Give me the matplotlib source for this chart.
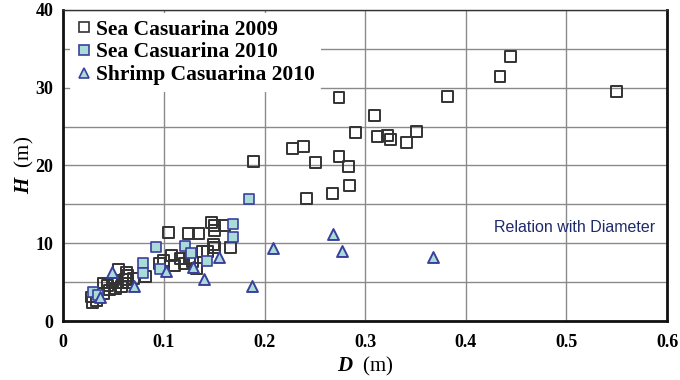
import matplotlib
matplotlib.use("Agg")
import matplotlib.pyplot as plt
from matplotlib.lines import Line2D

plt.rcParams['mathtext.fontset'] = 'custom'
plt.rcParams['mathtext.rm'] = 'Liberation Serif'
plt.rcParams['mathtext.it'] = 'Liberation Serif:italic'
plt.rcParams['mathtext.bf'] = 'Liberation Serif:bold'
plt.rcParams['mathtext.bfit'] = 'Liberation Serif:italic:bold'

# Sea Casuarina 2009 (open squares)
sea09_D = [0.028, 0.029, 0.033, 0.040, 0.040, 0.044, 0.046, 0.049, 0.052, 0.054,
           0.058, 0.059, 0.062, 0.064, 0.055, 0.063, 0.064, 0.070, 0.082,
           0.096, 0.100, 0.105, 0.108, 0.111, 0.116, 0.120, 0.124, 0.125, 0.128,
           0.132, 0.134, 0.138, 0.143, 0.147, 0.149, 0.150, 0.150, 0.150, 0.160,
           0.166, 0.189, 0.228, 0.239, 0.242, 0.251, 0.268, 0.274, 0.274, 0.283,
           0.284, 0.290, 0.309, 0.312, 0.322, 0.325, 0.341, 0.351, 0.382, 0.434,
           0.444, 0.550]
sea09_H = [3.1, 2.4, 2.7, 3.6, 4.9, 4.6, 4.0, 4.9, 4.2, 5.0,
           4.4, 4.9, 5.3, 4.9, 6.6, 6.3, 5.9, 5.5, 5.7,
           7.4, 7.8, 11.4, 8.4, 7.2, 8.1, 7.4, 11.2, 8.0, 7.6,
           6.8, 11.2, 8.9, 8.9, 12.7, 9.8, 12.3, 11.7, 9.5, 12.3,
           9.5, 20.5, 22.2, 22.4, 15.8, 20.4, 16.4, 21.1, 28.7, 19.9,
           17.4, 24.3, 26.4, 23.7, 23.8, 23.3, 23.0, 24.4, 28.9, 31.4,
           34.0, 29.5]

# Sea Casuarina 2010 (filled squares)
sea10_D = [0.030, 0.035, 0.079, 0.079, 0.092, 0.096, 0.121, 0.127, 0.143, 0.169, 0.169, 0.185]
sea10_H = [3.7, 3.3, 7.5, 6.2, 9.5, 6.7, 9.6, 8.7, 7.7, 12.5, 10.8, 15.7]

# Shrimp Casuarina 2010 (triangles)
shrimp_D = [0.037, 0.048, 0.070, 0.102, 0.129, 0.140, 0.155, 0.188, 0.208, 0.268, 0.277, 0.367]
shrimp_H = [3.1, 6.3, 4.5, 6.4, 6.9, 5.4, 8.2, 4.5, 9.4, 11.2, 9.0, 8.2]

xticks = [0, 0.1, 0.2, 0.3, 0.4, 0.5, 0.6]
xticklabels = ['0', '0.1', '0.2', '0.3', '0.4', '0.5', '0.6']
yticks = [0, 10, 20, 30, 40]

fig = plt.figure(figsize=(6.8, 3.8), dpi=100)
ax = fig.add_axes([0.093, 0.155, 0.888, 0.819])

face = '#a9dcd8'
edge_b = '#3a3f9e'
ax.scatter(sea09_D, sea09_H, marker='s', s=62, facecolors='none', edgecolors='#333333',
           linewidths=1.4, zorder=3)
ax.scatter(sea10_D, sea10_H, marker='s', s=62, facecolors=face, edgecolors=edge_b,
           linewidths=1.2, zorder=4)
ax.scatter(shrimp_D, shrimp_H, marker='^', s=62, facecolors=face, edgecolors=edge_b,
           linewidths=1.4, zorder=5)

ax.set_xlim(0, 0.6)
ax.set_ylim(0, 40)
ax.set_xticks(xticks)
ax.set_xticklabels(xticklabels)
ax.set_yticks(yticks)
ax.set_yticks([5, 15, 25, 35], minor=True)
ax.grid(True, which='both', color='#8a8a8a', linewidth=1.0, zorder=0)
ax.set_axisbelow(True)
for lab in ax.get_xticklabels() + ax.get_yticklabels():
    lab.set_fontfamily('Liberation Serif')
    lab.set_fontweight('bold')
    lab.set_fontsize(13)
ax.tick_params(axis='x', which='both', length=0, pad=9)
ax.tick_params(axis='y', which='both', length=0, pad=7)

for side in ['left', 'bottom', 'right']:
    ax.spines[side].set_linewidth(2.0)
    ax.spines[side].set_color('#111111')
ax.spines['top'].set_linewidth(1.0)
ax.spines['top'].set_color('#333333')

ax.set_xlabel(r'$\mathbfit{D}$  (m)', fontfamily='Liberation Serif', fontsize=15, labelpad=3)
ax.set_ylabel(r'$\mathbfit{H}$  (m)', fontfamily='Liberation Serif', fontsize=15, labelpad=0)

ax.text(0.588, 12.0, 'Relation with Diameter', fontfamily='Liberation Sans', fontsize=11.5,
        color='#1f2a6b', ha='right', va='center')

handles = [
    Line2D([], [], linestyle='none', marker='s', markersize=7, markerfacecolor='none',
           markeredgecolor='#333333', markeredgewidth=1.2),
    Line2D([], [], linestyle='none', marker='s', markersize=7, markerfacecolor=face,
           markeredgecolor=edge_b, markeredgewidth=1.2),
    Line2D([], [], linestyle='none', marker='^', markersize=7, markerfacecolor=face,
           markeredgecolor=edge_b, markeredgewidth=1.2),
]
labels = ['Sea Casuarina 2009', 'Sea Casuarina 2010', 'Shrimp Casuarina 2010']
leg = ax.legend(handles, labels, loc='upper left', bbox_to_anchor=(0.0, 1.01), frameon=True,
                prop={'family': 'Liberation Serif', 'weight': 'bold', 'size': 15.5},
                handlelength=0.7, handletextpad=0.2, labelspacing=0.12,
                borderaxespad=0.3, borderpad=0.3)
leg.get_frame().set_facecolor('white')
leg.get_frame().set_edgecolor('none')
leg.get_frame().set_alpha(1.0)
leg.set_zorder(6)

fig.savefig('out.png', dpi=100)
